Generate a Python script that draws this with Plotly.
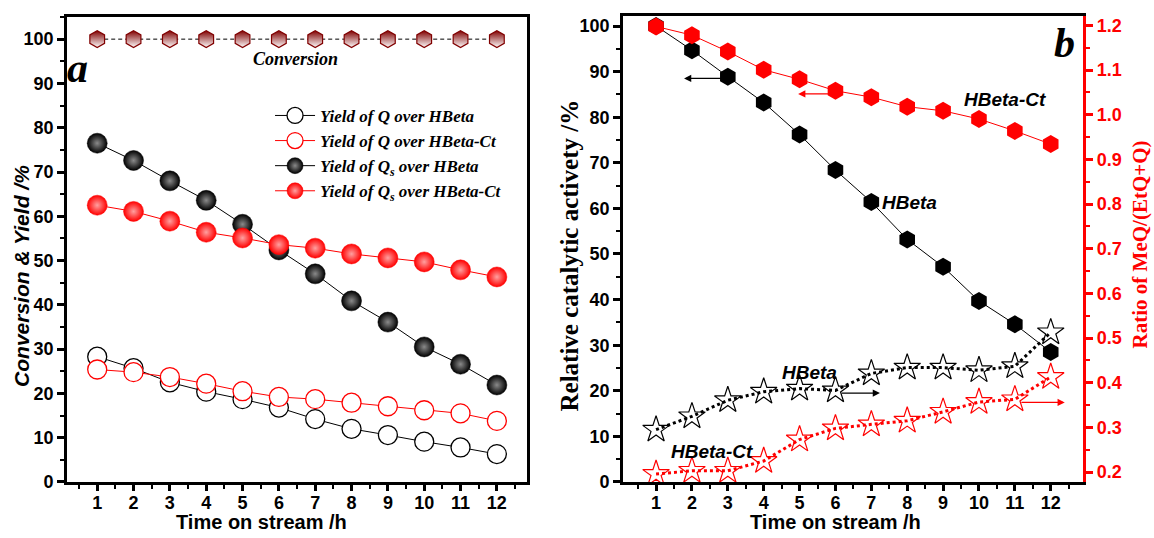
import plotly.graph_objects as go

hours = list(range(1, 13))

# Panel a
conversion = [100] * 12
yield_q_hbeta = [28.3, 25.7, 22.5, 20.4, 18.7, 16.8, 14.2, 12.0, 10.6, 9.1, 7.8, 6.3]
yield_q_hbetact = [25.4, 24.8, 23.7, 22.2, 20.5, 19.2, 18.7, 17.9, 17.1, 16.2, 15.5, 13.8]
yield_qs_hbeta = [76.5, 72.6, 68.0, 63.6, 58.2, 52.4, 47.0, 40.9, 36.1, 30.5, 26.6, 21.9]
yield_qs_hbetact = [62.5, 61.1, 58.9, 56.4, 55.1, 53.6, 52.8, 51.5, 50.6, 49.7, 47.9, 46.3]

# Panel b
activity_hbeta = [100, 94.7, 88.9, 83.2, 76.2, 68.4, 61.4, 53.2, 47.2, 39.7, 34.6, 28.5]
activity_hbetact = [99.9, 98.0, 94.4, 90.4, 88.3, 85.8, 84.4, 82.3, 81.4, 79.6, 77.0, 74.1]
ratio_hbeta = [0.295, 0.325, 0.361, 0.380, 0.387, 0.383, 0.421, 0.434, 0.434, 0.428, 0.437, 0.513]
ratio_hbetact = [0.196, 0.203, 0.203, 0.225, 0.273, 0.298, 0.307, 0.315, 0.335, 0.357, 0.363, 0.413]

SERIF = "Liberation Serif"
SANS = "Liberation Sans"
DARKRED = "#800000"
RED = "#ff0000"

fig = go.Figure()

# ---------- panel a ----------
fig.add_trace(go.Scatter(
    x=hours, y=conversion, xaxis="x", yaxis="y", mode="lines+markers",
    line=dict(color="black", width=1, dash="4px,3px"),
    marker=dict(symbol="hexagon", size=17, color=DARKRED,
                gradient=dict(type="vertical", color="white"),
                line=dict(color=DARKRED, width=1.2)),
    showlegend=False))

fig.add_trace(go.Scatter(
    x=hours, y=yield_q_hbeta, xaxis="x", yaxis="y", mode="lines+markers",
    name="Yield of Q over HBeta",
    line=dict(color="black", width=1),
    marker=dict(symbol="circle", size=19, color="white", line=dict(color="black", width=1.3))))
fig.add_trace(go.Scatter(
    x=hours, y=yield_q_hbetact, xaxis="x", yaxis="y", mode="lines+markers",
    name="Yield of Q over HBeta-Ct",
    line=dict(color=RED, width=1),
    marker=dict(symbol="circle", size=19, color="white", line=dict(color=RED, width=1.3))))
fig.add_trace(go.Scatter(
    x=hours, y=yield_qs_hbeta, xaxis="x", yaxis="y", mode="lines+markers",
    name="Yield of Q<sub>s</sub> over HBeta",
    line=dict(color="black", width=1),
    marker=dict(symbol="circle", size=20, color="black",
                gradient=dict(type="radial", color="#8a8a8a"),
                line=dict(color="black", width=0.5))))
fig.add_trace(go.Scatter(
    x=hours, y=yield_qs_hbetact, xaxis="x", yaxis="y", mode="lines+markers",
    name="Yield of Q<sub>s</sub> over HBeta-Ct",
    line=dict(color=RED, width=1),
    marker=dict(symbol="circle", size=20, color=RED,
                gradient=dict(type="radial", color="#ffa0a0"),
                line=dict(color=RED, width=0.5))))

# ---------- panel b ----------
fig.add_trace(go.Scatter(
    x=hours, y=activity_hbeta, xaxis="x2", yaxis="y2", mode="lines+markers",
    line=dict(color="black", width=1),
    marker=dict(symbol="hexagon", size=18, color="black"), showlegend=False))
fig.add_trace(go.Scatter(
    x=hours, y=activity_hbetact, xaxis="x2", yaxis="y2", mode="lines+markers",
    line=dict(color=RED, width=1),
    marker=dict(symbol="hexagon", size=18, color=RED), showlegend=False))
fig.add_trace(go.Scatter(
    x=hours, y=ratio_hbeta, xaxis="x2", yaxis="y3", mode="lines+markers",
    line=dict(color="black", width=3, dash="dot"),
    marker=dict(symbol="star-open", size=20, color="black", line=dict(color="black", width=1.2)),
    showlegend=False))
fig.add_trace(go.Scatter(
    x=hours, y=ratio_hbetact, xaxis="x2", yaxis="y3", mode="lines+markers",
    line=dict(color=RED, width=3, dash="dot"),
    marker=dict(symbol="star-open", size=20, color=RED, line=dict(color=RED, width=1.2)),
    showlegend=False))

tickfont = dict(family=SANS, size=18, color="black", weight="bold")
common_x = dict(tickmode="array", tickvals=hours, ticks="outside", ticklen=6, tickwidth=2.5,
                tickcolor="black", showline=True, linewidth=3, linecolor="black",
                showgrid=False, zeroline=False, tickfont=tickfont, mirror=True, automargin=False,
                ticklabelstandoff=-4,
                minor=dict(dtick=0.5, tick0=0.5, ticks="outside", ticklen=4, tickwidth=2, tickcolor="black"))
common_y = dict(tickmode="linear", tick0=0, dtick=10, ticks="outside", ticklen=7, tickwidth=2.5,
                tickcolor="black", showline=True, linewidth=3, linecolor="black",
                showgrid=False, zeroline=False, tickfont=tickfont, automargin=False,
                minor=dict(dtick=5, tick0=0, ticks="outside", ticklen=4, tickwidth=2, tickcolor="black"))

fig.update_layout(
    width=1154, height=538,
    margin=dict(l=0, r=0, t=0, b=0, autoexpand=False),
    paper_bgcolor="white", plot_bgcolor="white",
    xaxis=dict(domain=[0.0581, 0.4567], range=[0.17, 12.83], anchor="y", **common_x),
    yaxis=dict(domain=[0.1041, 0.9684], range=[0, 105], anchor="x", mirror=True, **common_y),
    xaxis2=dict(domain=[0.5399, 0.9385], range=[0.08, 12.9], anchor="y2", **common_x),
    yaxis2=dict(domain=[0.1041, 0.9703], range=[0, 102.2], anchor="x2", **common_y),
    yaxis3=dict(overlaying="y2", side="right", anchor="x2", range=[0.178, 1.221],
                tickmode="linear", tick0=0.2, dtick=0.1, tickformat=".1f", automargin=False,
                ticks="outside", ticklen=7, tickwidth=2.5, tickcolor=RED,
                showline=True, linewidth=3, linecolor=RED, showgrid=False, zeroline=False,
                tickfont=dict(family=SANS, size=18, color=RED, weight="bold"),
                minor=dict(dtick=0.05, tick0=0.2, ticks="outside", ticklen=4, tickwidth=2, tickcolor=RED)),
    legend=dict(x=0.234, y=0.818, xanchor="left", yanchor="top", bgcolor="rgba(0,0,0,0)",
                font=dict(family=SERIF, size=17, color="black", style="italic", weight="bold"),
                itemwidth=40, tracegroupgap=0),
    showlegend=True,
)

ann = []
def txt(text, x, y, xref, yref, font, **kw):
    ann.append(dict(text=text, x=x, y=y, xref=xref, yref=yref, showarrow=False, font=font,
                    xanchor="center", yanchor="middle", **kw))

big = dict(family=SERIF, size=42, color="black", style="italic", weight="bold")
lab = dict(family=SANS, size=19, color="black", style="italic", weight="bold")
txt("a", 0.45, 93.5, "x", "y", big)
txt("Conversion", 6.47, 95.6, "x", "y", dict(family=SERIF, size=18, color="black", style="italic", weight="bold"))
txt("b", 12.39, 96.3, "x2", "y2", big)
txt("HBeta-Ct", 10.72, 83.8, "x2", "y2", lab)
txt("HBeta", 8.07, 61.2, "x2", "y2", lab)
txt("HBeta", 5.29, 24.1, "x2", "y2", lab)
txt("HBeta-Ct", 2.56, 6.6, "x2", "y2", lab)

# axis titles
txt("Conversion & Yield /%", 0.019, 0.487, "paper", "paper",
    dict(family=SANS, size=21, color="black", style="italic", weight="bold"), textangle=-90)
txt("Time on stream /h", 0.2266, 0.029, "paper", "paper",
    dict(family=SANS, size=20, color="black", weight="bold"))
txt("Time on stream /h", 0.7236, 0.029, "paper", "paper",
    dict(family=SANS, size=20, color="black", weight="bold"))
txt("Relative catalytic activety /%", 0.4935, 0.526, "paper", "paper",
    dict(family=SERIF, size=25, color="black", weight="bold"), textangle=-90)
txt("Ratio of MeQ/(EtQ+Q)", 0.988, 0.546, "paper", "paper",
    dict(family=SERIF, size=21, color=RED, weight="bold"), textangle=-90)

# arrows
def arrow(x0, y0, x1, y1, xref, yref, color):
    ann.append(dict(x=x1, y=y1, ax=x0, ay=y0, xref=xref, yref=yref, axref=xref, ayref=yref,
                    showarrow=True, arrowhead=2, arrowsize=1.2, arrowwidth=1.2, arrowcolor=color, text=""))
arrow(2.87, 88.5, 1.78, 88.5, "x2", "y2", "black")
arrow(5.93, 85.1, 4.96, 85.1, "x2", "y2", RED)
arrow(6.13, 0.377, 7.24, 0.377, "x2", "y3", "black")
arrow(11.14, 0.356, 12.39, 0.356, "x2", "y3", RED)

fig.update_layout(annotations=ann)
fig.write_html("out.html")
